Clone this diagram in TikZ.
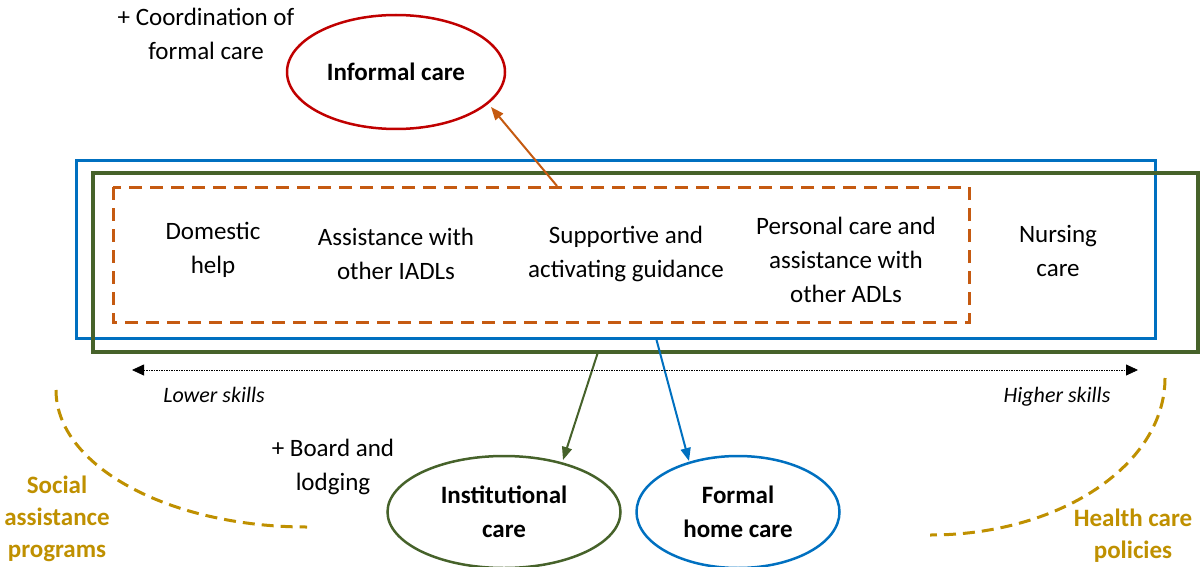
\documentclass[tikz,border=0pt]{standalone}
\usepackage{fontspec}
\setmainfont{Carlito}
\usetikzlibrary{arrows.meta,shapes.geometric}
\definecolor{cblue}{RGB}{0,112,192}
\definecolor{cgreen}{RGB}{70,98,42}
\definecolor{corange}{RGB}{197,90,17}
\definecolor{cred}{RGB}{192,0,0}
\definecolor{cgold}{RGB}{191,144,0}
\begin{document}
\begin{tikzpicture}[x=1pt,y=-1pt,
  every node/.style={font=\fontsize{25}{34}\selectfont, align=center, inner sep=0pt},
  lbl/.style={text=black},
  oval/.style={ellipse, draw, line width=2.5pt, font=\fontsize{25}{34}\selectfont\bfseries},
  conn/.style={line width=2pt, -{Triangle[length=13pt,width=10pt]}},
  policy/.style={draw=cgold, line width=3pt, dash pattern=on 12pt off 7pt},
  policytext/.style={text=cgold, font=\fontsize{25}{32}\selectfont\bfseries}
]
\path[use as bounding box] (0,0) rectangle (1204,567);

% frames
\draw[cblue, line width=3pt] (76,160) rectangle (1155,338);
\draw[cgreen, line width=3.5pt] (93,173) rectangle (1198,352);
\draw[corange, line width=3pt, dash pattern=on 13pt off 8pt] (113,187) rectangle (969,322);

% task labels
\node[lbl] (dom) at (213,250) {Domestic\\help};
\node[lbl] (iadl) at (396,254) {Assistance with\\other IADLs};
\node[lbl] (sup) at (626,254) {Supportive and\\activating guidance};
\node[lbl] (adl) at (846,260) {Personal care and\\assistance with\\other ADLs};
\node[lbl] (nurse) at (1058,251) {Nursing\\care};

% ovals
\node[oval, draw=cred, minimum width=218pt, minimum height=114pt] (inf) at (396,72) {Informal care};
\node[oval, draw=cgreen, minimum width=233pt, minimum height=112pt] (inst) at (504,512) {Institutional\\care};
\node[oval, draw=cblue, minimum width=203pt, minimum height=112pt] (home) at (738,512) {Formal\\home care};

% side texts
\node (coord) at (206,34) {+ Coordination of\\formal care};
\node (board) at (333,467) {+ Board and\\lodging};

% connectors
\coordinate (oS) at (557,186);
\coordinate (oE) at (491,107);
\draw[conn, corange] (oS) -- (oE);
\coordinate (gS) at (598,352);
\coordinate (gE) at (563,460);
\draw[conn, cgreen] (gS) -- (gE);
\coordinate (bS) at (656,338);
\coordinate (bE) at (689,461);
\draw[conn, cblue] (bS) -- (bE);

% skills axis
\coordinate (axL) at (132,370);
\coordinate (axR) at (1138,370);
\draw[line width=0.8pt, dash pattern=on 1.5pt off 1pt, {Triangle[length=12pt,width=11pt]}-{Triangle[length=12pt,width=11pt]}] (axL) -- (axR);
\node[font=\fontsize{22}{28}\selectfont\itshape] (low) at (214,395) {Lower skills};
\node[font=\fontsize{22}{28}\selectfont\itshape] (high) at (1057,397) {Higher skills};

% policy arcs
\draw[policy] (56,390) arc[start angle=180, end angle=90, x radius=251, y radius=137];
\draw[policy] (1165,378) arc[start angle=0, end angle=90, x radius=235, y radius=157];
\node[policytext] (soc) at (57,519) {Social\\assistance\\programs};
\node[policytext] (health) at (1133,536) {Health care\\policies};
\end{tikzpicture}
\end{document}
